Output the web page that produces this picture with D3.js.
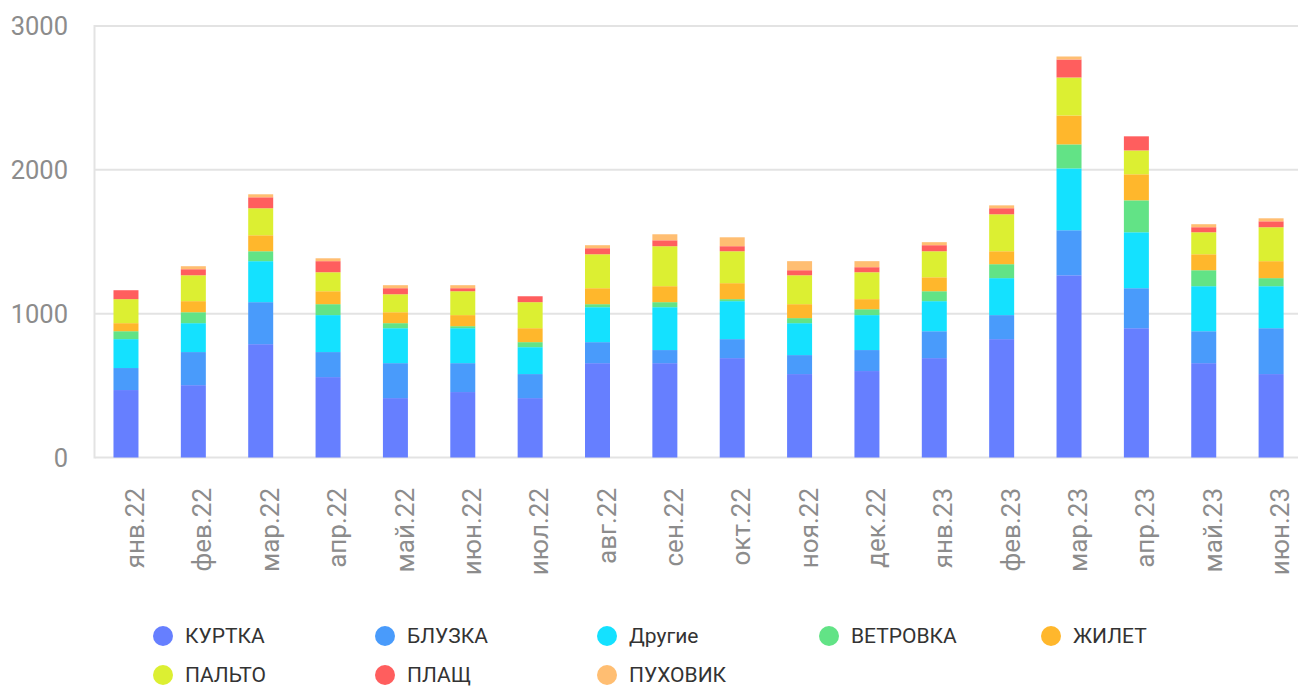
<!DOCTYPE html>
<html>
<head>
<meta charset="utf-8">
<script src="https://cdn.jsdelivr.net/npm/d3@7/dist/d3.min.js"></script>
<style>
  html, body { margin: 0; padding: 0; background: #fff; }
  svg { display: block; font-family: Roboto, "Noto Sans", sans-serif; }
</style>
</head>
<body>
<svg id="chart" width="1298" height="686"></svg>
<script>
const categories = ["янв.22","фев.22","мар.22","апр.22","май.22","июн.22","июл.22","авг.22","сен.22","окт.22","ноя.22","дек.22","янв.23","фев.23","мар.23","апр.23","май.23","июн.23"];
const seriesNames = ["КУРТКА","БЛУЗКА","Другие","ВЕТРОВКА","ЖИЛЕТ","ПАЛЬТО","ПЛАЩ","ПУХОВИК"];
const seriesColors = ["#667fff","#499bfb","#14e1ff","#62e386","#ffb72c","#dcef32","#ff5e5e","#ffbe72"];

const kurtka   = [469,503,788,559,413,455,413,656,656,691,580,601,691,823,1267,899,656,580];
const bluzka   = [153,230,292,174,243,201,167,146, 91,132,132,146,187,167, 313,278,222,319];
const drugie   = [201,201,285,257,243,243,187,243,298,264,222,243,209,257, 430,389,313,292];
const vetrovka = [ 55, 76, 69, 76, 35, 14, 35, 21, 35, 14, 35, 41, 69, 97, 167,222,111, 56];
const zhilet   = [ 56, 77,111, 90, 76, 77, 97,111,111,111, 97, 70, 97, 90, 201,181,111,118];
const palto    = [167,180,188,132,125,166,181,236,278,222,201,187,181,257, 264,166,153,236];
const plashch  = [ 62, 42, 76, 77, 42, 21, 41, 42, 41, 35, 35, 35, 42, 42, 125, 98, 35, 41];
const puhovik  = [  0, 21, 21, 20, 21, 21,  0, 21, 42, 62, 63, 42, 21, 20,  21,  0, 21, 21];

const yTicks = [0, 1000, 2000, 3000];

const seriesValues = [kurtka, bluzka, drugie, vetrovka, zhilet, palto, plashch, puhovik];
const rows = categories.map((c, i) => {
  const r = { cat: c };
  seriesNames.forEach((s, k) => r[s] = seriesValues[k][i]);
  return r;
});

const svg = d3.select("#chart");
const x = d3.scaleBand().domain(categories).range([92.3, 92.3 + 67.36 * 18]).paddingInner(0.629).paddingOuter(0.3145);
const y = d3.scaleLinear().domain([0, 3000]).range([457.5, 26]);
const color = d3.scaleOrdinal().domain(seriesNames).range(seriesColors);

// grid
const grid = svg.append("g");
grid.selectAll("line").data(yTicks).join("line")
  .attr("x1", 95).attr("x2", 1298)
  .attr("y1", d => y(d)).attr("y2", d => y(d))
  .attr("stroke", "#e3e3e3").attr("stroke-width", 2);
grid.append("line").attr("x1", 94.5).attr("x2", 94.5).attr("y1", y(3000) - 1).attr("y2", y(0) + 1)
  .attr("stroke", "#e3e3e3").attr("stroke-width", 2);

// y labels
const yAxis = d3.axisLeft(y).tickValues(yTicks).tickFormat(d3.format("d")).tickSize(0).tickPadding(0);
const gy = svg.append("g").attr("transform", "translate(68,0)").call(yAxis);
gy.select(".domain").remove();
gy.selectAll("text").attr("font-size", 25.5).attr("fill", "#8c8c8c").attr("font-family", "Roboto").attr("dy", "0.35em");

// bars
const stack = d3.stack().keys(seriesNames);
const layers = stack(rows);
svg.append("g").selectAll("g").data(layers).join("g")
  .attr("fill", d => color(d.key))
  .selectAll("rect").data(d => d).join("rect")
  .attr("x", d => x(d.data.cat))
  .attr("width", x.bandwidth())
  .attr("y", d => y(d[1]))
  .attr("height", d => Math.max(0, y(d[0]) - y(d[1])));

// x labels
const xAxis = d3.axisBottom(x).tickSize(0).tickPadding(0);
const gx = svg.append("g").attr("transform", "translate(0,488)").call(xAxis);
gx.select(".domain").remove();
gx.selectAll("text")
  .attr("font-size", 26).attr("fill", "#8c8c8c").attr("font-family", "Roboto")
  .attr("text-anchor", "end")
  .attr("transform", "translate(9,0) rotate(-90)")
  .attr("x", 0).attr("y", 0).attr("dy", "0.35em");

// legend
const legendPos = seriesNames.map((s, i) => ({ name: s, col: i % 5, row: Math.floor(i / 5) }));
const lg = svg.append("g").selectAll("g").data(legendPos).join("g")
  .attr("transform", d => `translate(${163 + d.col * 222},${636 + d.row * 39})`);
lg.append("circle").attr("r", 10).attr("fill", d => color(d.name));
lg.append("text").attr("x", 22).attr("dy", "0.35em")
  .attr("font-size", 21).attr("fill", "#333").attr("font-family", "Roboto")
  .text(d => d.name);
</script>
</body>
</html>
